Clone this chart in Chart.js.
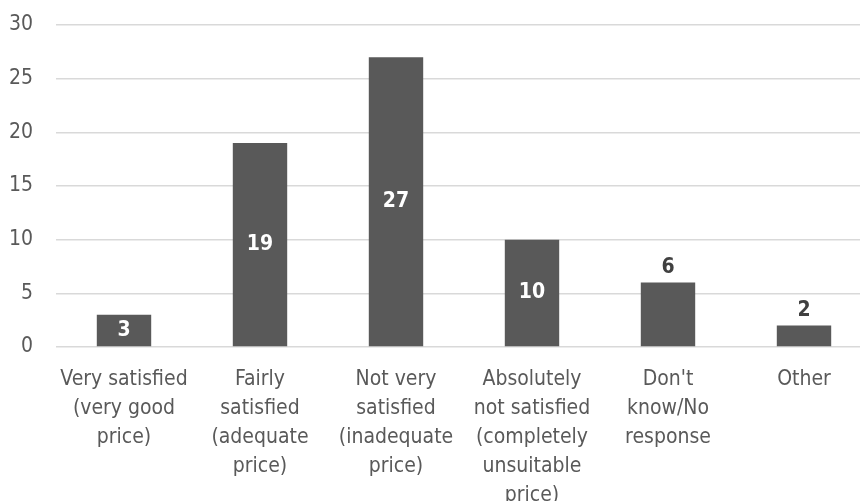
<!DOCTYPE html>
<html>
<head>
<meta charset="utf-8">
<script src="https://cdn.jsdelivr.net/npm/chart.js@4/dist/chart.umd.min.js"></script>
<style>
  html, body { margin: 0; padding: 0; background: #fff; overflow: hidden; }
  #wrap { width: 872px; height: 501px; }
</style>
</head>
<body>
<div id="wrap"><canvas id="priceChart" width="872" height="501"></canvas></div>
<script>
// survey answers, one label line per array entry
const categories = [
  ['Very satisfied', '(very good', 'price)'],
  ['Fairly', 'satisfied', '(adequate', 'price)'],
  ['Not very', 'satisfied', '(inadequate', 'price)'],
  ['Absolutely', 'not satisfied', '(completely', 'unsuitable', 'price)'],
  ["Don't", 'know/No', 'response'],
  ['Other']
];
const responses = [3, 19, 27, 10, 6, 2];
const yTicks = [0, 5, 10, 15, 20, 25, 30];

const FONT = "'Liberation Sans Narrow', 'DejaVu Sans Condensed', sans-serif";
const BAR = '#595959';

// value labels: centred inside the bar, or sat on top for the short ones
const valueLabels = {
  id: 'valueLabels',
  afterDatasetsDraw(chart) {
    const ctx = chart.ctx;
    const meta = chart.getDatasetMeta(0);
    const outside = new Set([4, 5]);
    ctx.save();
    ctx.font = 'bold 21px ' + FONT;
    ctx.textAlign = 'center';
    ctx.textBaseline = 'middle';
    meta.data.forEach((bar, i) => {
      const v = chart.data.datasets[0].data[i];
      if (outside.has(i)) {
        ctx.fillStyle = '#404040';
        ctx.fillText(v, bar.x, bar.y - 15);
      } else {
        ctx.fillStyle = '#ffffff';
        ctx.fillText(v, bar.x, (bar.y + bar.base) / 2);
      }
    });
    ctx.restore();
  }
};

new Chart(document.getElementById('priceChart'), {
  type: 'bar',
  data: {
    labels: categories,
    datasets: [{
      data: responses,
      backgroundColor: BAR,
      borderWidth: 0,
      barPercentage: 0.4,
      categoryPercentage: 1
    }]
  },
  options: {
    responsive: false,
    animation: false,
    layout: { padding: { top: 25, right: 0, left: 0, bottom: 0 } },
    plugins: {
      legend: { display: false },
      tooltip: { enabled: false }
    },
    scales: {
      x: {
        grid: { display: false },
        border: { display: false },
        ticks: {
          color: '#595959',
          font: { family: FONT, size: 21, lineHeight: 1.38 },
          padding: 10,
          maxRotation: 0,
          autoSkip: false
        },
        afterFit(scale) {
          scale.height = 154;
          scale.paddingLeft = 0;
          scale.paddingRight = 0;
        }
      },
      y: {
        min: 0,
        max: 30,
        afterBuildTicks(scale) { scale.ticks = yTicks.map(v => ({ value: v })); },
        grid: { color: '#d9d9d9', lineWidth: 1.5, drawTicks: false },
        border: { display: false },
        ticks: {
          color: '#595959',
          font: { family: FONT, size: 21 },
          padding: 23
        },
        afterFit(scale) {
          scale.width = 56;
          scale.paddingTop = 0;
          scale.paddingBottom = 0;
        }
      }
    }
  },
  plugins: [valueLabels]
});
</script>
</body>
</html>
